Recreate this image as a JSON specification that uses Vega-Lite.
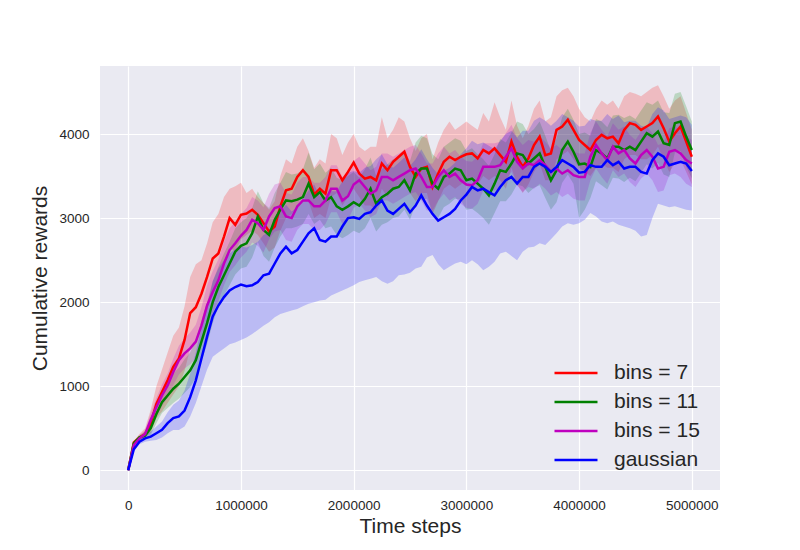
{
  "$schema": "https://vega.github.io/schema/vega-lite/v6.json",
  "width": 620,
  "height": 424,
  "autosize": {"type": "none"},
  "padding": {"left": 100, "top": 66, "right": 80, "bottom": 60},
  "background": "white",
  "config": {
    "view": {"fill": "#EAEAF2", "stroke": null},
    "axis": {
      "domain": false,
      "ticks": false,
      "gridColor": "white",
      "gridWidth": 1.2,
      "labelFont": "Liberation Sans",
      "labelFontSize": 13.5,
      "labelColor": "#262626",
      "titleFont": "Liberation Sans",
      "titleFontSize": 21,
      "titleFontWeight": "normal",
      "titleColor": "#262626"
    },
    "legend": {
      "labelFont": "Liberation Sans",
      "labelFontSize": 21,
      "labelColor": "#262626",
      "symbolType": "M-2,0H2",
      "symbolSize": 462,
      "symbolStrokeWidth": 2.5,
      "rowPadding": 7,
      "labelOffset": 26,
      "padding": 0
    }
  },
  "data": {
    "values": [
      {"t":0,"s":"bins = 7","m":0,"lo":0,"hi":0},
      {"t":50000,"s":"bins = 7","m":330,"lo":310,"hi":350},
      {"t":100000,"s":"bins = 7","m":390,"lo":360,"hi":430},
      {"t":150000,"s":"bins = 7","m":430,"lo":390,"hi":500},
      {"t":200000,"s":"bins = 7","m":560,"lo":450,"hi":720},
      {"t":250000,"s":"bins = 7","m":790,"lo":620,"hi":1000},
      {"t":300000,"s":"bins = 7","m":930,"lo":700,"hi":1200},
      {"t":350000,"s":"bins = 7","m":1070,"lo":800,"hi":1400},
      {"t":400000,"s":"bins = 7","m":1230,"lo":900,"hi":1600},
      {"t":450000,"s":"bins = 7","m":1330,"lo":1000,"hi":1700},
      {"t":500000,"s":"bins = 7","m":1550,"lo":1180,"hi":1950},
      {"t":550000,"s":"bins = 7","m":1870,"lo":1450,"hi":2300},
      {"t":600000,"s":"bins = 7","m":1940,"lo":1550,"hi":2450},
      {"t":650000,"s":"bins = 7","m":2100,"lo":1700,"hi":2500},
      {"t":700000,"s":"bins = 7","m":2300,"lo":1900,"hi":2700},
      {"t":750000,"s":"bins = 7","m":2520,"lo":2150,"hi":2950},
      {"t":800000,"s":"bins = 7","m":2580,"lo":2200,"hi":3050},
      {"t":850000,"s":"bins = 7","m":2780,"lo":2450,"hi":3250},
      {"t":900000,"s":"bins = 7","m":3000,"lo":2650,"hi":3350},
      {"t":950000,"s":"bins = 7","m":2920,"lo":2600,"hi":3380},
      {"t":1000000,"s":"bins = 7","m":3040,"lo":2750,"hi":3420},
      {"t":1050000,"s":"bins = 7","m":3055,"lo":2800,"hi":3300},
      {"t":1100000,"s":"bins = 7","m":3100,"lo":2850,"hi":3350},
      {"t":1150000,"s":"bins = 7","m":3040,"lo":2800,"hi":3250},
      {"t":1200000,"s":"bins = 7","m":2940,"lo":2700,"hi":3180},
      {"t":1250000,"s":"bins = 7","m":2840,"lo":2600,"hi":3100},
      {"t":1300000,"s":"bins = 7","m":2900,"lo":2650,"hi":3200},
      {"t":1350000,"s":"bins = 7","m":3140,"lo":2850,"hi":3500},
      {"t":1400000,"s":"bins = 7","m":3330,"lo":3000,"hi":3700},
      {"t":1450000,"s":"bins = 7","m":3350,"lo":3050,"hi":3650},
      {"t":1500000,"s":"bins = 7","m":3490,"lo":3150,"hi":3850},
      {"t":1550000,"s":"bins = 7","m":3570,"lo":3250,"hi":3950},
      {"t":1600000,"s":"bins = 7","m":3490,"lo":3200,"hi":3800},
      {"t":1650000,"s":"bins = 7","m":3280,"lo":3000,"hi":3600},
      {"t":1700000,"s":"bins = 7","m":3350,"lo":3050,"hi":3700},
      {"t":1750000,"s":"bins = 7","m":3290,"lo":3000,"hi":3650},
      {"t":1800000,"s":"bins = 7","m":3570,"lo":3250,"hi":4000},
      {"t":1850000,"s":"bins = 7","m":3570,"lo":3300,"hi":3950},
      {"t":1900000,"s":"bins = 7","m":3450,"lo":3150,"hi":3750},
      {"t":1950000,"s":"bins = 7","m":3550,"lo":3250,"hi":3900},
      {"t":2000000,"s":"bins = 7","m":3660,"lo":3350,"hi":4000},
      {"t":2050000,"s":"bins = 7","m":3530,"lo":3250,"hi":3850},
      {"t":2100000,"s":"bins = 7","m":3470,"lo":3150,"hi":3800},
      {"t":2150000,"s":"bins = 7","m":3490,"lo":3150,"hi":3850},
      {"t":2200000,"s":"bins = 7","m":3450,"lo":3100,"hi":3850},
      {"t":2250000,"s":"bins = 7","m":3650,"lo":3350,"hi":4200},
      {"t":2300000,"s":"bins = 7","m":3570,"lo":3250,"hi":3950},
      {"t":2350000,"s":"bins = 7","m":3670,"lo":3350,"hi":4050},
      {"t":2400000,"s":"bins = 7","m":3730,"lo":3400,"hi":4200},
      {"t":2450000,"s":"bins = 7","m":3790,"lo":3450,"hi":4150},
      {"t":2500000,"s":"bins = 7","m":3610,"lo":3300,"hi":3950},
      {"t":2550000,"s":"bins = 7","m":3490,"lo":3200,"hi":3800},
      {"t":2600000,"s":"bins = 7","m":3590,"lo":3300,"hi":3950},
      {"t":2650000,"s":"bins = 7","m":3610,"lo":3300,"hi":4000},
      {"t":2700000,"s":"bins = 7","m":3370,"lo":3050,"hi":3700},
      {"t":2750000,"s":"bins = 7","m":3530,"lo":3200,"hi":3900},
      {"t":2800000,"s":"bins = 7","m":3670,"lo":3350,"hi":4050},
      {"t":2850000,"s":"bins = 7","m":3730,"lo":3400,"hi":4150},
      {"t":2900000,"s":"bins = 7","m":3690,"lo":3350,"hi":4050},
      {"t":2950000,"s":"bins = 7","m":3730,"lo":3400,"hi":4100},
      {"t":3000000,"s":"bins = 7","m":3760,"lo":3450,"hi":4150},
      {"t":3050000,"s":"bins = 7","m":3770,"lo":3450,"hi":4100},
      {"t":3100000,"s":"bins = 7","m":3710,"lo":3400,"hi":4050},
      {"t":3150000,"s":"bins = 7","m":3810,"lo":3500,"hi":4250},
      {"t":3200000,"s":"bins = 7","m":3770,"lo":3450,"hi":4150},
      {"t":3250000,"s":"bins = 7","m":3830,"lo":3500,"hi":4380},
      {"t":3300000,"s":"bins = 7","m":3750,"lo":3450,"hi":4200},
      {"t":3350000,"s":"bins = 7","m":3670,"lo":3350,"hi":4050},
      {"t":3400000,"s":"bins = 7","m":3910,"lo":3600,"hi":4400},
      {"t":3450000,"s":"bins = 7","m":3730,"lo":3400,"hi":4100},
      {"t":3500000,"s":"bins = 7","m":3610,"lo":3300,"hi":3950},
      {"t":3550000,"s":"bins = 7","m":3710,"lo":3400,"hi":4100},
      {"t":3600000,"s":"bins = 7","m":3870,"lo":3550,"hi":4300},
      {"t":3650000,"s":"bins = 7","m":3970,"lo":3650,"hi":4400},
      {"t":3700000,"s":"bins = 7","m":3750,"lo":3450,"hi":4150},
      {"t":3750000,"s":"bins = 7","m":3770,"lo":3450,"hi":4200},
      {"t":3800000,"s":"bins = 7","m":4050,"lo":3700,"hi":4450},
      {"t":3850000,"s":"bins = 7","m":4090,"lo":3750,"hi":4520},
      {"t":3900000,"s":"bins = 7","m":4170,"lo":3800,"hi":4550},
      {"t":3950000,"s":"bins = 7","m":4050,"lo":3700,"hi":4450},
      {"t":4000000,"s":"bins = 7","m":3930,"lo":3600,"hi":4300},
      {"t":4050000,"s":"bins = 7","m":3870,"lo":3550,"hi":4200},
      {"t":4100000,"s":"bins = 7","m":3810,"lo":3500,"hi":4150},
      {"t":4150000,"s":"bins = 7","m":3930,"lo":3600,"hi":4300},
      {"t":4200000,"s":"bins = 7","m":3990,"lo":3650,"hi":4400},
      {"t":4250000,"s":"bins = 7","m":3950,"lo":3600,"hi":4350},
      {"t":4300000,"s":"bins = 7","m":3970,"lo":3600,"hi":4400},
      {"t":4350000,"s":"bins = 7","m":3890,"lo":3550,"hi":4300},
      {"t":4400000,"s":"bins = 7","m":4050,"lo":3700,"hi":4450},
      {"t":4450000,"s":"bins = 7","m":4130,"lo":3750,"hi":4500},
      {"t":4500000,"s":"bins = 7","m":4110,"lo":3750,"hi":4480},
      {"t":4550000,"s":"bins = 7","m":4050,"lo":3700,"hi":4450},
      {"t":4600000,"s":"bins = 7","m":4090,"lo":3700,"hi":4500},
      {"t":4650000,"s":"bins = 7","m":4130,"lo":3750,"hi":4550},
      {"t":4700000,"s":"bins = 7","m":4210,"lo":3850,"hi":4580},
      {"t":4750000,"s":"bins = 7","m":4070,"lo":3700,"hi":4450},
      {"t":4800000,"s":"bins = 7","m":3910,"lo":3550,"hi":4300},
      {"t":4850000,"s":"bins = 7","m":4010,"lo":3650,"hi":4400},
      {"t":4900000,"s":"bins = 7","m":4090,"lo":3700,"hi":4450},
      {"t":4950000,"s":"bins = 7","m":3910,"lo":3550,"hi":4250},
      {"t":5000000,"s":"bins = 7","m":3730,"lo":3400,"hi":4050},

      {"t":0,"s":"bins = 11","m":0,"lo":0,"hi":0},
      {"t":50000,"s":"bins = 11","m":320,"lo":300,"hi":340},
      {"t":100000,"s":"bins = 11","m":390,"lo":360,"hi":420},
      {"t":150000,"s":"bins = 11","m":410,"lo":370,"hi":460},
      {"t":200000,"s":"bins = 11","m":500,"lo":420,"hi":600},
      {"t":250000,"s":"bins = 11","m":670,"lo":560,"hi":800},
      {"t":300000,"s":"bins = 11","m":810,"lo":680,"hi":960},
      {"t":350000,"s":"bins = 11","m":890,"lo":740,"hi":1060},
      {"t":400000,"s":"bins = 11","m":970,"lo":800,"hi":1150},
      {"t":450000,"s":"bins = 11","m":1030,"lo":850,"hi":1220},
      {"t":500000,"s":"bins = 11","m":1110,"lo":920,"hi":1320},
      {"t":550000,"s":"bins = 11","m":1190,"lo":990,"hi":1400},
      {"t":600000,"s":"bins = 11","m":1310,"lo":1100,"hi":1550},
      {"t":650000,"s":"bins = 11","m":1530,"lo":1300,"hi":1780},
      {"t":700000,"s":"bins = 11","m":1750,"lo":1500,"hi":2000},
      {"t":750000,"s":"bins = 11","m":2000,"lo":1750,"hi":2250},
      {"t":800000,"s":"bins = 11","m":2180,"lo":1950,"hi":2420},
      {"t":850000,"s":"bins = 11","m":2320,"lo":2080,"hi":2580},
      {"t":900000,"s":"bins = 11","m":2460,"lo":2200,"hi":2720},
      {"t":950000,"s":"bins = 11","m":2600,"lo":2330,"hi":2880},
      {"t":1000000,"s":"bins = 11","m":2670,"lo":2400,"hi":2950},
      {"t":1050000,"s":"bins = 11","m":2700,"lo":2420,"hi":3000},
      {"t":1100000,"s":"bins = 11","m":2820,"lo":2530,"hi":3120},
      {"t":1150000,"s":"bins = 11","m":3020,"lo":2720,"hi":3320},
      {"t":1200000,"s":"bins = 11","m":2860,"lo":2550,"hi":3180},
      {"t":1250000,"s":"bins = 11","m":2800,"lo":2480,"hi":3120},
      {"t":1300000,"s":"bins = 11","m":2980,"lo":2650,"hi":3300},
      {"t":1350000,"s":"bins = 11","m":3100,"lo":2780,"hi":3420},
      {"t":1400000,"s":"bins = 11","m":3210,"lo":2880,"hi":3550},
      {"t":1450000,"s":"bins = 11","m":3200,"lo":2880,"hi":3520},
      {"t":1500000,"s":"bins = 11","m":3220,"lo":2900,"hi":3530},
      {"t":1550000,"s":"bins = 11","m":3250,"lo":2930,"hi":3580},
      {"t":1600000,"s":"bins = 11","m":3410,"lo":3050,"hi":3780},
      {"t":1650000,"s":"bins = 11","m":3250,"lo":2930,"hi":3580},
      {"t":1700000,"s":"bins = 11","m":3310,"lo":2980,"hi":3650},
      {"t":1750000,"s":"bins = 11","m":3210,"lo":2880,"hi":3540},
      {"t":1800000,"s":"bins = 11","m":3250,"lo":2900,"hi":3600},
      {"t":1850000,"s":"bins = 11","m":3140,"lo":2800,"hi":3480},
      {"t":1900000,"s":"bins = 11","m":3100,"lo":2760,"hi":3450},
      {"t":1950000,"s":"bins = 11","m":3140,"lo":2800,"hi":3500},
      {"t":2000000,"s":"bins = 11","m":3190,"lo":2850,"hi":3550},
      {"t":2050000,"s":"bins = 11","m":3150,"lo":2820,"hi":3480},
      {"t":2100000,"s":"bins = 11","m":3230,"lo":2880,"hi":3580},
      {"t":2150000,"s":"bins = 11","m":3350,"lo":3000,"hi":3720},
      {"t":2200000,"s":"bins = 11","m":3170,"lo":2840,"hi":3500},
      {"t":2250000,"s":"bins = 11","m":3250,"lo":2920,"hi":3580},
      {"t":2300000,"s":"bins = 11","m":3290,"lo":2950,"hi":3640},
      {"t":2350000,"s":"bins = 11","m":3350,"lo":3000,"hi":3700},
      {"t":2400000,"s":"bins = 11","m":3370,"lo":3020,"hi":3720},
      {"t":2450000,"s":"bins = 11","m":3450,"lo":3100,"hi":3800},
      {"t":2500000,"s":"bins = 11","m":3330,"lo":2980,"hi":3680},
      {"t":2550000,"s":"bins = 11","m":3530,"lo":3170,"hi":3900},
      {"t":2600000,"s":"bins = 11","m":3590,"lo":3220,"hi":3980},
      {"t":2650000,"s":"bins = 11","m":3590,"lo":3230,"hi":3950},
      {"t":2700000,"s":"bins = 11","m":3410,"lo":3060,"hi":3760},
      {"t":2750000,"s":"bins = 11","m":3350,"lo":3000,"hi":3700},
      {"t":2800000,"s":"bins = 11","m":3490,"lo":3130,"hi":3850},
      {"t":2850000,"s":"bins = 11","m":3530,"lo":3170,"hi":3900},
      {"t":2900000,"s":"bins = 11","m":3590,"lo":3230,"hi":3950},
      {"t":2950000,"s":"bins = 11","m":3570,"lo":3220,"hi":3920},
      {"t":3000000,"s":"bins = 11","m":3450,"lo":3100,"hi":3800},
      {"t":3050000,"s":"bins = 11","m":3470,"lo":3110,"hi":3830},
      {"t":3100000,"s":"bins = 11","m":3410,"lo":3060,"hi":3760},
      {"t":3150000,"s":"bins = 11","m":3350,"lo":3000,"hi":3700},
      {"t":3200000,"s":"bins = 11","m":3270,"lo":2920,"hi":3620},
      {"t":3250000,"s":"bins = 11","m":3410,"lo":3060,"hi":3760},
      {"t":3300000,"s":"bins = 11","m":3570,"lo":3200,"hi":3940},
      {"t":3350000,"s":"bins = 11","m":3550,"lo":3200,"hi":3900},
      {"t":3400000,"s":"bins = 11","m":3650,"lo":3280,"hi":4020},
      {"t":3450000,"s":"bins = 11","m":3770,"lo":3400,"hi":4150},
      {"t":3500000,"s":"bins = 11","m":3750,"lo":3380,"hi":4120},
      {"t":3550000,"s":"bins = 11","m":3650,"lo":3300,"hi":4000},
      {"t":3600000,"s":"bins = 11","m":3710,"lo":3360,"hi":4060},
      {"t":3650000,"s":"bins = 11","m":3770,"lo":3390,"hi":4150},
      {"t":3700000,"s":"bins = 11","m":3610,"lo":3240,"hi":3980},
      {"t":3750000,"s":"bins = 11","m":3450,"lo":3100,"hi":3800},
      {"t":3800000,"s":"bins = 11","m":3570,"lo":3190,"hi":3950},
      {"t":3850000,"s":"bins = 11","m":3810,"lo":3420,"hi":4200},
      {"t":3900000,"s":"bins = 11","m":3910,"lo":3520,"hi":4300},
      {"t":3950000,"s":"bins = 11","m":3790,"lo":3410,"hi":4170},
      {"t":4000000,"s":"bins = 11","m":3640,"lo":3000,"hi":4000},
      {"t":4050000,"s":"bins = 11","m":3650,"lo":3100,"hi":4020},
      {"t":4100000,"s":"bins = 11","m":3610,"lo":3240,"hi":3980},
      {"t":4150000,"s":"bins = 11","m":3810,"lo":3440,"hi":4180},
      {"t":4200000,"s":"bins = 11","m":3770,"lo":3390,"hi":4150},
      {"t":4250000,"s":"bins = 11","m":3710,"lo":3340,"hi":4080},
      {"t":4300000,"s":"bins = 11","m":3850,"lo":3480,"hi":4220},
      {"t":4350000,"s":"bins = 11","m":3850,"lo":3470,"hi":4230},
      {"t":4400000,"s":"bins = 11","m":3810,"lo":3430,"hi":4190},
      {"t":4450000,"s":"bins = 11","m":3850,"lo":3480,"hi":4220},
      {"t":4500000,"s":"bins = 11","m":3810,"lo":3440,"hi":4180},
      {"t":4550000,"s":"bins = 11","m":3910,"lo":3540,"hi":4280},
      {"t":4600000,"s":"bins = 11","m":4010,"lo":3640,"hi":4380},
      {"t":4650000,"s":"bins = 11","m":3970,"lo":3590,"hi":4350},
      {"t":4700000,"s":"bins = 11","m":4030,"lo":3660,"hi":4400},
      {"t":4750000,"s":"bins = 11","m":3890,"lo":3520,"hi":4260},
      {"t":4800000,"s":"bins = 11","m":3870,"lo":3490,"hi":4250},
      {"t":4850000,"s":"bins = 11","m":4130,"lo":3780,"hi":4480},
      {"t":4900000,"s":"bins = 11","m":4150,"lo":3800,"hi":4500},
      {"t":4950000,"s":"bins = 11","m":3970,"lo":3610,"hi":4330},
      {"t":5000000,"s":"bins = 11","m":3810,"lo":3470,"hi":4150},

      {"t":0,"s":"bins = 15","m":0,"lo":0,"hi":0},
      {"t":50000,"s":"bins = 15","m":300,"lo":280,"hi":320},
      {"t":100000,"s":"bins = 15","m":380,"lo":350,"hi":410},
      {"t":150000,"s":"bins = 15","m":430,"lo":380,"hi":480},
      {"t":200000,"s":"bins = 15","m":600,"lo":520,"hi":680},
      {"t":250000,"s":"bins = 15","m":750,"lo":640,"hi":860},
      {"t":300000,"s":"bins = 15","m":890,"lo":760,"hi":1020},
      {"t":350000,"s":"bins = 15","m":1010,"lo":870,"hi":1150},
      {"t":400000,"s":"bins = 15","m":1170,"lo":1010,"hi":1330},
      {"t":450000,"s":"bins = 15","m":1310,"lo":1140,"hi":1480},
      {"t":500000,"s":"bins = 15","m":1390,"lo":1210,"hi":1570},
      {"t":550000,"s":"bins = 15","m":1450,"lo":1260,"hi":1640},
      {"t":600000,"s":"bins = 15","m":1530,"lo":1330,"hi":1730},
      {"t":650000,"s":"bins = 15","m":1720,"lo":1500,"hi":1940},
      {"t":700000,"s":"bins = 15","m":1960,"lo":1720,"hi":2200},
      {"t":750000,"s":"bins = 15","m":2120,"lo":1870,"hi":2370},
      {"t":800000,"s":"bins = 15","m":2260,"lo":2010,"hi":2510},
      {"t":850000,"s":"bins = 15","m":2460,"lo":2200,"hi":2720},
      {"t":900000,"s":"bins = 15","m":2620,"lo":2360,"hi":2880},
      {"t":950000,"s":"bins = 15","m":2700,"lo":2440,"hi":2960},
      {"t":1000000,"s":"bins = 15","m":2790,"lo":2530,"hi":3050},
      {"t":1050000,"s":"bins = 15","m":2860,"lo":2600,"hi":3120},
      {"t":1100000,"s":"bins = 15","m":2980,"lo":2710,"hi":3250},
      {"t":1150000,"s":"bins = 15","m":2940,"lo":2670,"hi":3210},
      {"t":1200000,"s":"bins = 15","m":2860,"lo":2590,"hi":3130},
      {"t":1250000,"s":"bins = 15","m":3020,"lo":2750,"hi":3290},
      {"t":1300000,"s":"bins = 15","m":3120,"lo":2840,"hi":3400},
      {"t":1350000,"s":"bins = 15","m":3140,"lo":2860,"hi":3420},
      {"t":1400000,"s":"bins = 15","m":3020,"lo":2740,"hi":3300},
      {"t":1450000,"s":"bins = 15","m":3000,"lo":2720,"hi":3280},
      {"t":1500000,"s":"bins = 15","m":3140,"lo":2860,"hi":3420},
      {"t":1550000,"s":"bins = 15","m":3210,"lo":2930,"hi":3490},
      {"t":1600000,"s":"bins = 15","m":3210,"lo":2930,"hi":3490},
      {"t":1650000,"s":"bins = 15","m":3140,"lo":2860,"hi":3420},
      {"t":1700000,"s":"bins = 15","m":3140,"lo":2860,"hi":3420},
      {"t":1750000,"s":"bins = 15","m":3210,"lo":2930,"hi":3490},
      {"t":1800000,"s":"bins = 15","m":3350,"lo":3070,"hi":3630},
      {"t":1850000,"s":"bins = 15","m":3350,"lo":3070,"hi":3630},
      {"t":1900000,"s":"bins = 15","m":3210,"lo":2930,"hi":3490},
      {"t":1950000,"s":"bins = 15","m":3260,"lo":2980,"hi":3540},
      {"t":2000000,"s":"bins = 15","m":3400,"lo":3120,"hi":3680},
      {"t":2050000,"s":"bins = 15","m":3450,"lo":3170,"hi":3730},
      {"t":2100000,"s":"bins = 15","m":3370,"lo":3090,"hi":3650},
      {"t":2150000,"s":"bins = 15","m":3290,"lo":3010,"hi":3570},
      {"t":2200000,"s":"bins = 15","m":3330,"lo":3050,"hi":3610},
      {"t":2250000,"s":"bins = 15","m":3490,"lo":3210,"hi":3770},
      {"t":2300000,"s":"bins = 15","m":3490,"lo":3210,"hi":3770},
      {"t":2350000,"s":"bins = 15","m":3450,"lo":3170,"hi":3730},
      {"t":2400000,"s":"bins = 15","m":3490,"lo":3210,"hi":3770},
      {"t":2450000,"s":"bins = 15","m":3530,"lo":3250,"hi":3810},
      {"t":2500000,"s":"bins = 15","m":3570,"lo":3290,"hi":3850},
      {"t":2550000,"s":"bins = 15","m":3590,"lo":3310,"hi":3870},
      {"t":2600000,"s":"bins = 15","m":3490,"lo":3210,"hi":3770},
      {"t":2650000,"s":"bins = 15","m":3370,"lo":3090,"hi":3650},
      {"t":2700000,"s":"bins = 15","m":3370,"lo":3090,"hi":3650},
      {"t":2750000,"s":"bins = 15","m":3490,"lo":3210,"hi":3770},
      {"t":2800000,"s":"bins = 15","m":3570,"lo":3290,"hi":3850},
      {"t":2850000,"s":"bins = 15","m":3490,"lo":3210,"hi":3770},
      {"t":2900000,"s":"bins = 15","m":3530,"lo":3250,"hi":3810},
      {"t":2950000,"s":"bins = 15","m":3450,"lo":3170,"hi":3730},
      {"t":3000000,"s":"bins = 15","m":3400,"lo":3120,"hi":3680},
      {"t":3050000,"s":"bins = 15","m":3390,"lo":3110,"hi":3670},
      {"t":3100000,"s":"bins = 15","m":3450,"lo":3170,"hi":3730},
      {"t":3150000,"s":"bins = 15","m":3610,"lo":3330,"hi":3890},
      {"t":3200000,"s":"bins = 15","m":3610,"lo":3330,"hi":3890},
      {"t":3250000,"s":"bins = 15","m":3610,"lo":3330,"hi":3890},
      {"t":3300000,"s":"bins = 15","m":3630,"lo":3350,"hi":3910},
      {"t":3350000,"s":"bins = 15","m":3730,"lo":3450,"hi":4010},
      {"t":3400000,"s":"bins = 15","m":3830,"lo":3550,"hi":4110},
      {"t":3450000,"s":"bins = 15","m":3670,"lo":3390,"hi":3950},
      {"t":3500000,"s":"bins = 15","m":3590,"lo":3310,"hi":3870},
      {"t":3550000,"s":"bins = 15","m":3650,"lo":3370,"hi":3930},
      {"t":3600000,"s":"bins = 15","m":3630,"lo":3350,"hi":3910},
      {"t":3650000,"s":"bins = 15","m":3690,"lo":3410,"hi":3970},
      {"t":3700000,"s":"bins = 15","m":3630,"lo":3350,"hi":3910},
      {"t":3750000,"s":"bins = 15","m":3550,"lo":3270,"hi":3830},
      {"t":3800000,"s":"bins = 15","m":3590,"lo":3310,"hi":3870},
      {"t":3850000,"s":"bins = 15","m":3530,"lo":3250,"hi":3810},
      {"t":3900000,"s":"bins = 15","m":3570,"lo":3290,"hi":3850},
      {"t":3950000,"s":"bins = 15","m":3510,"lo":3230,"hi":3790},
      {"t":4000000,"s":"bins = 15","m":3490,"lo":3210,"hi":3770},
      {"t":4050000,"s":"bins = 15","m":3490,"lo":3210,"hi":3770},
      {"t":4100000,"s":"bins = 15","m":3730,"lo":3450,"hi":4010},
      {"t":4150000,"s":"bins = 15","m":3870,"lo":3590,"hi":4150},
      {"t":4200000,"s":"bins = 15","m":3770,"lo":3490,"hi":4050},
      {"t":4250000,"s":"bins = 15","m":3690,"lo":3410,"hi":3970},
      {"t":4300000,"s":"bins = 15","m":3850,"lo":3570,"hi":4130},
      {"t":4350000,"s":"bins = 15","m":3770,"lo":3490,"hi":4050},
      {"t":4400000,"s":"bins = 15","m":3810,"lo":3530,"hi":4090},
      {"t":4450000,"s":"bins = 15","m":3710,"lo":3430,"hi":3990},
      {"t":4500000,"s":"bins = 15","m":3650,"lo":3370,"hi":3930},
      {"t":4550000,"s":"bins = 15","m":3750,"lo":3470,"hi":4030},
      {"t":4600000,"s":"bins = 15","m":3810,"lo":3530,"hi":4090},
      {"t":4650000,"s":"bins = 15","m":3730,"lo":3450,"hi":4010},
      {"t":4700000,"s":"bins = 15","m":3590,"lo":3310,"hi":3870},
      {"t":4750000,"s":"bins = 15","m":3610,"lo":3330,"hi":3890},
      {"t":4800000,"s":"bins = 15","m":3790,"lo":3510,"hi":4070},
      {"t":4850000,"s":"bins = 15","m":3810,"lo":3530,"hi":4090},
      {"t":4900000,"s":"bins = 15","m":3770,"lo":3490,"hi":4050},
      {"t":4950000,"s":"bins = 15","m":3690,"lo":3410,"hi":3970},
      {"t":5000000,"s":"bins = 15","m":3650,"lo":3370,"hi":3930},

      {"t":0,"s":"gaussian","m":0,"lo":0,"hi":0},
      {"t":50000,"s":"gaussian","m":250,"lo":230,"hi":270},
      {"t":100000,"s":"gaussian","m":340,"lo":310,"hi":370},
      {"t":150000,"s":"gaussian","m":380,"lo":340,"hi":420},
      {"t":200000,"s":"gaussian","m":400,"lo":350,"hi":460},
      {"t":250000,"s":"gaussian","m":440,"lo":360,"hi":520},
      {"t":300000,"s":"gaussian","m":480,"lo":390,"hi":580},
      {"t":350000,"s":"gaussian","m":560,"lo":440,"hi":690},
      {"t":400000,"s":"gaussian","m":620,"lo":480,"hi":780},
      {"t":450000,"s":"gaussian","m":640,"lo":480,"hi":830},
      {"t":500000,"s":"gaussian","m":710,"lo":520,"hi":950},
      {"t":550000,"s":"gaussian","m":870,"lo":640,"hi":1150},
      {"t":600000,"s":"gaussian","m":1070,"lo":800,"hi":1400},
      {"t":650000,"s":"gaussian","m":1330,"lo":1000,"hi":1700},
      {"t":700000,"s":"gaussian","m":1590,"lo":1200,"hi":1950},
      {"t":750000,"s":"gaussian","m":1830,"lo":1350,"hi":2250},
      {"t":800000,"s":"gaussian","m":1960,"lo":1400,"hi":2400},
      {"t":850000,"s":"gaussian","m":2060,"lo":1450,"hi":2500},
      {"t":900000,"s":"gaussian","m":2140,"lo":1500,"hi":2580},
      {"t":950000,"s":"gaussian","m":2180,"lo":1520,"hi":2630},
      {"t":1000000,"s":"gaussian","m":2210,"lo":1550,"hi":2660},
      {"t":1050000,"s":"gaussian","m":2190,"lo":1580,"hi":2650},
      {"t":1100000,"s":"gaussian","m":2200,"lo":1620,"hi":2680},
      {"t":1150000,"s":"gaussian","m":2240,"lo":1670,"hi":2720},
      {"t":1200000,"s":"gaussian","m":2320,"lo":1720,"hi":2800},
      {"t":1250000,"s":"gaussian","m":2340,"lo":1760,"hi":2830},
      {"t":1300000,"s":"gaussian","m":2460,"lo":1820,"hi":2950},
      {"t":1350000,"s":"gaussian","m":2580,"lo":1860,"hi":3080},
      {"t":1400000,"s":"gaussian","m":2660,"lo":1880,"hi":3160},
      {"t":1450000,"s":"gaussian","m":2580,"lo":1900,"hi":3080},
      {"t":1500000,"s":"gaussian","m":2620,"lo":1920,"hi":3130},
      {"t":1550000,"s":"gaussian","m":2720,"lo":1950,"hi":3230},
      {"t":1600000,"s":"gaussian","m":2820,"lo":1980,"hi":3330},
      {"t":1650000,"s":"gaussian","m":2880,"lo":2000,"hi":3400},
      {"t":1700000,"s":"gaussian","m":2740,"lo":2020,"hi":3260},
      {"t":1750000,"s":"gaussian","m":2720,"lo":2030,"hi":3250},
      {"t":1800000,"s":"gaussian","m":2780,"lo":2080,"hi":3320},
      {"t":1850000,"s":"gaussian","m":2780,"lo":2110,"hi":3320},
      {"t":1900000,"s":"gaussian","m":2900,"lo":2140,"hi":3440},
      {"t":1950000,"s":"gaussian","m":3000,"lo":2170,"hi":3540},
      {"t":2000000,"s":"gaussian","m":3010,"lo":2200,"hi":3560},
      {"t":2050000,"s":"gaussian","m":2990,"lo":2240,"hi":3540},
      {"t":2100000,"s":"gaussian","m":3050,"lo":2260,"hi":3600},
      {"t":2150000,"s":"gaussian","m":3070,"lo":2280,"hi":3620},
      {"t":2200000,"s":"gaussian","m":3150,"lo":2300,"hi":3700},
      {"t":2250000,"s":"gaussian","m":3210,"lo":2250,"hi":3760},
      {"t":2300000,"s":"gaussian","m":3090,"lo":2220,"hi":3640},
      {"t":2350000,"s":"gaussian","m":3050,"lo":2250,"hi":3600},
      {"t":2400000,"s":"gaussian","m":3110,"lo":2320,"hi":3660},
      {"t":2450000,"s":"gaussian","m":3170,"lo":2330,"hi":3720},
      {"t":2500000,"s":"gaussian","m":3070,"lo":2350,"hi":3620},
      {"t":2550000,"s":"gaussian","m":3150,"lo":2400,"hi":3700},
      {"t":2600000,"s":"gaussian","m":3270,"lo":2420,"hi":3820},
      {"t":2650000,"s":"gaussian","m":3150,"lo":2530,"hi":3700},
      {"t":2700000,"s":"gaussian","m":3050,"lo":2560,"hi":3600},
      {"t":2750000,"s":"gaussian","m":2970,"lo":2450,"hi":3520},
      {"t":2800000,"s":"gaussian","m":3010,"lo":2380,"hi":3560},
      {"t":2850000,"s":"gaussian","m":3050,"lo":2420,"hi":3600},
      {"t":2900000,"s":"gaussian","m":3110,"lo":2460,"hi":3660},
      {"t":2950000,"s":"gaussian","m":3210,"lo":2480,"hi":3760},
      {"t":3000000,"s":"gaussian","m":3280,"lo":2450,"hi":3830},
      {"t":3050000,"s":"gaussian","m":3370,"lo":2500,"hi":3920},
      {"t":3100000,"s":"gaussian","m":3330,"lo":2450,"hi":3880},
      {"t":3150000,"s":"gaussian","m":3350,"lo":2380,"hi":3900},
      {"t":3200000,"s":"gaussian","m":3310,"lo":2420,"hi":3860},
      {"t":3250000,"s":"gaussian","m":3270,"lo":2480,"hi":3820},
      {"t":3300000,"s":"gaussian","m":3370,"lo":2580,"hi":3920},
      {"t":3350000,"s":"gaussian","m":3450,"lo":2600,"hi":4000},
      {"t":3400000,"s":"gaussian","m":3490,"lo":2550,"hi":4040},
      {"t":3450000,"s":"gaussian","m":3410,"lo":2500,"hi":3960},
      {"t":3500000,"s":"gaussian","m":3490,"lo":2600,"hi":4040},
      {"t":3550000,"s":"gaussian","m":3490,"lo":2650,"hi":4040},
      {"t":3600000,"s":"gaussian","m":3610,"lo":2660,"hi":4160},
      {"t":3650000,"s":"gaussian","m":3650,"lo":2700,"hi":4200},
      {"t":3700000,"s":"gaussian","m":3610,"lo":2680,"hi":4160},
      {"t":3750000,"s":"gaussian","m":3550,"lo":2750,"hi":4100},
      {"t":3800000,"s":"gaussian","m":3610,"lo":2820,"hi":4160},
      {"t":3850000,"s":"gaussian","m":3690,"lo":2900,"hi":4240},
      {"t":3900000,"s":"gaussian","m":3650,"lo":2940,"hi":4200},
      {"t":3950000,"s":"gaussian","m":3610,"lo":2920,"hi":4160},
      {"t":4000000,"s":"gaussian","m":3540,"lo":2940,"hi":4090},
      {"t":4050000,"s":"gaussian","m":3550,"lo":2980,"hi":4100},
      {"t":4100000,"s":"gaussian","m":3630,"lo":3060,"hi":4180},
      {"t":4150000,"s":"gaussian","m":3610,"lo":3020,"hi":4160},
      {"t":4200000,"s":"gaussian","m":3610,"lo":2960,"hi":4160},
      {"t":4250000,"s":"gaussian","m":3690,"lo":2940,"hi":4240},
      {"t":4300000,"s":"gaussian","m":3630,"lo":2960,"hi":4180},
      {"t":4350000,"s":"gaussian","m":3670,"lo":2920,"hi":4220},
      {"t":4400000,"s":"gaussian","m":3590,"lo":2900,"hi":4140},
      {"t":4450000,"s":"gaussian","m":3610,"lo":2880,"hi":4160},
      {"t":4500000,"s":"gaussian","m":3610,"lo":2850,"hi":4160},
      {"t":4550000,"s":"gaussian","m":3550,"lo":2780,"hi":4100},
      {"t":4600000,"s":"gaussian","m":3530,"lo":2800,"hi":4080},
      {"t":4650000,"s":"gaussian","m":3690,"lo":3000,"hi":4240},
      {"t":4700000,"s":"gaussian","m":3770,"lo":3170,"hi":4320},
      {"t":4750000,"s":"gaussian","m":3730,"lo":3150,"hi":4280},
      {"t":4800000,"s":"gaussian","m":3630,"lo":3130,"hi":4180},
      {"t":4850000,"s":"gaussian","m":3650,"lo":3140,"hi":4200},
      {"t":4900000,"s":"gaussian","m":3670,"lo":3120,"hi":4220},
      {"t":4950000,"s":"gaussian","m":3650,"lo":3100,"hi":4200},
      {"t":5000000,"s":"gaussian","m":3560,"lo":3090,"hi":4110}
    ]
  },
  "encoding": {
    "x": {
      "field": "t",
      "type": "quantitative",
      "title": "Time steps",
      "scale": {"domain": [-250000, 5250000], "nice": false, "zero": false},
      "axis": {"values": [0, 1000000, 2000000, 3000000, 4000000, 5000000], "format": "d", "labelPadding": 8, "titlePadding": 4}
    }
  },
  "layer": [
    {
      "mark": {"type": "area", "fillOpacity": 0.2},
      "encoding": {
        "y": {
          "field": "lo",
          "type": "quantitative",
          "title": "Cumulative rewards",
          "scale": {"domain": [-235, 4810], "nice": false, "zero": false},
          "axis": {"values": [0, 1000, 2000, 3000, 4000], "format": "d", "labelPadding": 11, "titlePadding": 8}
        },
        "y2": {"field": "hi"},
        "color": {
          "field": "s",
          "type": "nominal",
          "scale": {"domain": ["bins = 7", "bins = 11", "bins = 15", "gaussian"], "range": ["#FF0000", "#008000", "#BF00BF", "#0000FF"]},
          "legend": null
        }
      }
    },
    {
      "mark": {"type": "line", "strokeWidth": 2.5},
      "encoding": {
        "y": {"field": "m", "type": "quantitative"},
        "color": {
          "field": "s",
          "type": "nominal",
          "sort": ["bins = 7", "bins = 11", "bins = 15", "gaussian"],
          "legend": {"title": null, "orient": "bottom-right", "offset": 20}
        }
      }
    }
  ],
  "resolve": {"legend": {"color": "independent"}}
}
